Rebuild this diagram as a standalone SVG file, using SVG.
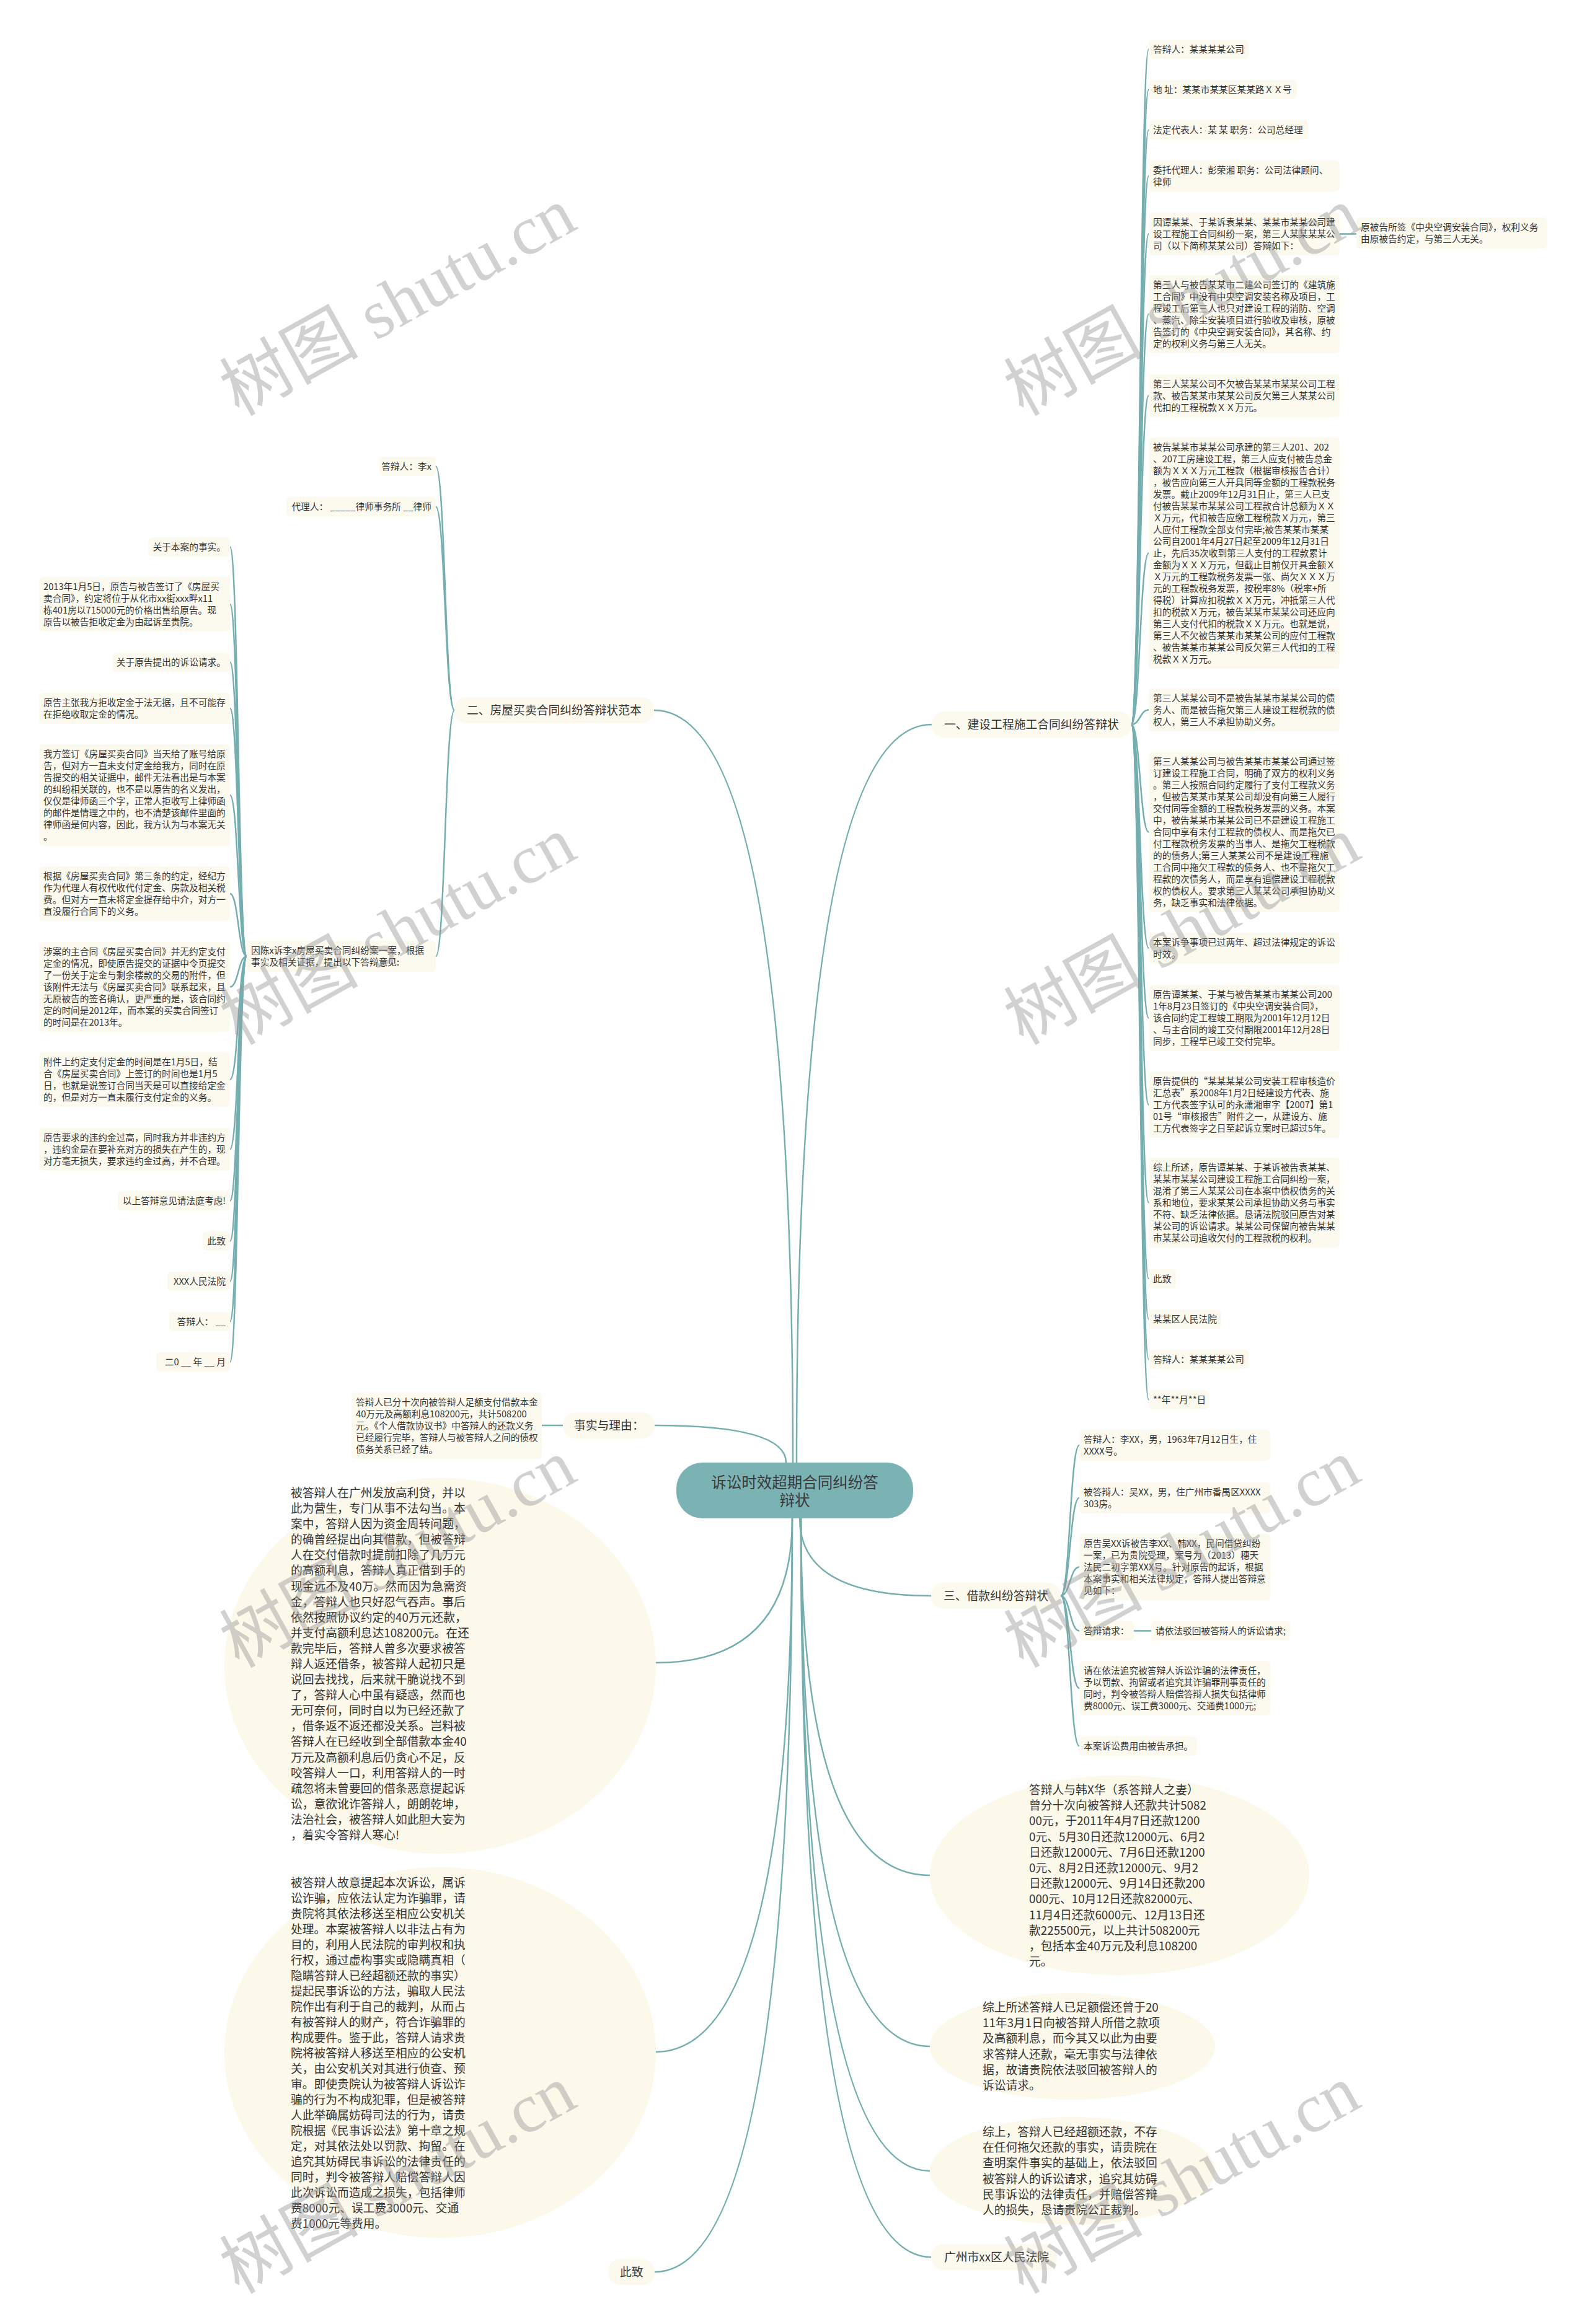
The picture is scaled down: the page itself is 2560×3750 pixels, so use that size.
<svg xmlns="http://www.w3.org/2000/svg" width="2560" height="3750" viewBox="0 0 2560 3750">
<style>
.bg{fill:#ffffff}
.n{fill:#fcf9ee}
.p{fill:#fcf9ee}
.e{fill:#fcf8ea}
.t{font-family:"Noto Sans CJK SC","Noto Sans",sans-serif;font-size:14.7px;fill:#333333}
.tb{font-family:"Noto Sans CJK SC","Noto Sans",sans-serif;font-size:18.8px;fill:#333333}
.tc{font-family:"Noto Sans CJK SC","Noto Sans",sans-serif;font-size:24.5px;fill:#3a3a3a}
.end{text-anchor:end}
.c{fill:none;stroke:#74aeaf;stroke-width:2.5}
.wm{font-family:"Liberation Serif","Noto Sans CJK SC",serif;font-size:112px;fill:#9a9a9a;opacity:0.45}
</style>
<rect class="bg" x="0" y="0" width="2560" height="3750"/>

<g id="connectors">
<path class="c" d="M1285,2360 Q1285,1169 1503,1169"/>
<path class="c" d="M1279,2360 Q1279,1146 1055,1146"/>
<path class="c" d="M1268,2360 Q1268,2300 1056,2300"/>
<path class="c" d="M1290,2450 Q1290,2575 1502,2575"/>
<path class="c" d="M1278,2450 Q1278,2683 1058,2683"/>
<path class="c" d="M1292,2450 Q1292,3026 1500,3026"/>
<path class="c" d="M1292,2450 Q1292,3302 1500,3302"/>
<path class="c" d="M1292,2450 Q1292,3503 1500,3503"/>
<path class="c" d="M1292,2450 Q1292,3642 1502,3642"/>
<path class="c" d="M1278,2450 Q1278,3311 1058,3311"/>
<path class="c" d="M1278,2450 Q1278,3666 1056,3666"/>
<path class="c" d="M1825,1169 C1839,1169 1839,79.5 1853,79.5"/>
<path class="c" d="M1825,1169 C1839,1169 1839,144.5 1853,144.5"/>
<path class="c" d="M1825,1169 C1839,1169 1839,209.5 1853,209.5"/>
<path class="c" d="M1825,1169 C1839,1169 1839,284 1853,284"/>
<path class="c" d="M1825,1169 C1839,1169 1839,377.5 1853,377.5"/>
<path class="c" d="M1825,1169 C1839,1169 1839,507 1853,507"/>
<path class="c" d="M1825,1169 C1839,1169 1839,638.5 1853,638.5"/>
<path class="c" d="M1825,1169 C1839,1169 1839,892.5 1853,892.5"/>
<path class="c" d="M1825,1169 C1839,1169 1839,1145.5 1853,1145.5"/>
<path class="c" d="M1825,1169 C1839,1169 1839,1342.5 1853,1342.5"/>
<path class="c" d="M1825,1169 C1839,1169 1839,1530 1853,1530"/>
<path class="c" d="M1825,1169 C1839,1169 1839,1642.5 1853,1642.5"/>
<path class="c" d="M1825,1169 C1839,1169 1839,1782.5 1853,1782.5"/>
<path class="c" d="M1825,1169 C1839,1169 1839,1940.5 1853,1940.5"/>
<path class="c" d="M1825,1169 C1839,1169 1839,2063.5 1853,2063.5"/>
<path class="c" d="M1825,1169 C1839,1169 1839,2128.5 1853,2128.5"/>
<path class="c" d="M1825,1169 C1839,1169 1839,2193.5 1853,2193.5"/>
<path class="c" d="M1825,1169 C1839,1169 1839,2258.5 1853,2258.5"/>
<path class="c" d="M2161,377.5 L2188,377.5"/>
<path class="c" d="M733,1146 C718,1146 718,752.5 703,752.5"/>
<path class="c" d="M733,1146 C718,1146 718,817.5 703,817.5"/>
<path class="c" d="M733,1146 C718,1146 718,1543 703,1543"/>
<path class="c" d="M398,1543 C384.5,1543 384.5,882.5 371,882.5"/>
<path class="c" d="M398,1543 C384.5,1543 384.5,975 371,975"/>
<path class="c" d="M398,1543 C384.5,1543 384.5,1068.5 371,1068.5"/>
<path class="c" d="M398,1543 C384.5,1543 384.5,1143 371,1143"/>
<path class="c" d="M398,1543 C384.5,1543 384.5,1283 371,1283"/>
<path class="c" d="M398,1543 C384.5,1543 384.5,1442 371,1442"/>
<path class="c" d="M398,1543 C384.5,1543 384.5,1592.5 371,1592.5"/>
<path class="c" d="M398,1543 C384.5,1543 384.5,1742 371,1742"/>
<path class="c" d="M398,1543 C384.5,1543 384.5,1854.5 371,1854.5"/>
<path class="c" d="M398,1543 C384.5,1543 384.5,1937.5 371,1937.5"/>
<path class="c" d="M398,1543 C384.5,1543 384.5,2002.5 371,2002.5"/>
<path class="c" d="M398,1543 C384.5,1543 384.5,2067.5 371,2067.5"/>
<path class="c" d="M398,1543 C384.5,1543 384.5,2132.5 371,2132.5"/>
<path class="c" d="M398,1543 C384.5,1543 384.5,2197.5 371,2197.5"/>
<path class="c" d="M874,2300 L908,2300"/>
<path class="c" d="M1711,2575 C1726,2575 1726,2332 1741,2332"/>
<path class="c" d="M1711,2575 C1726,2575 1726,2417 1741,2417"/>
<path class="c" d="M1711,2575 C1726,2575 1726,2528.5 1741,2528.5"/>
<path class="c" d="M1711,2575 C1726,2575 1726,2631.5 1741,2631.5"/>
<path class="c" d="M1711,2575 C1726,2575 1726,2724 1741,2724"/>
<path class="c" d="M1711,2575 C1726,2575 1726,2817.5 1741,2817.5"/>
<path class="c" d="M1829,2631.5 L1857,2631.5"/>
</g>

<g id="center">
<rect x="1091" y="2360" width="382" height="90" rx="42" fill="#7bb3b4"/>
<text class="tc" text-anchor="middle"><tspan x="1282" y="2401">诉讼时效超期合同纠纷答</tspan><tspan x="1282" y="2430">辩状</tspan></text>
</g>

<g id="b1">
<rect class="p" x="1503" y="1148" width="322" height="42" rx="20"/>
<text class="tb" x="1523" y="1176">一、建设工程施工合同纠纷答辩状</text>
</g>
<g id="r1"><rect class="n" x="1853" y="64" width="161" height="31" rx="6"/><text class="t" x="1860" y="85">答辩人：某某某某公司</text></g>
<g id="r2"><rect class="n" x="1853" y="129" width="239" height="31" rx="6"/><text class="t" x="1860" y="150">地 址：某某市某某区某某路ＸＸ号</text></g>
<g id="r3"><rect class="n" x="1853" y="194" width="257" height="31" rx="6"/><text class="t" x="1860" y="215">法定代表人：某 某 职务：公司总经理</text></g>
<g id="r4"><rect class="n" x="1853" y="259" width="308" height="50" rx="6"/><text class="t"><tspan x="1860" y="280">委托代理人：彭荣湘 职务：公司法律顾问、</tspan><tspan x="1860" y="299">律师</tspan></text></g>
<g id="r5"><rect class="n" x="1853" y="343" width="308" height="69" rx="6"/><text class="t"><tspan x="1860" y="364">因谭某某、于某诉袁某某、某某市某某公司建</tspan><tspan x="1860" y="383">设工程施工合同纠纷一案，第三人某某某某公</tspan><tspan x="1860" y="402">司（以下简称某某公司）答辩如下：</tspan></text></g>
<g id="r5a"><rect class="n" x="2188" y="351" width="308" height="50" rx="6"/><text class="t"><tspan x="2195" y="372">原被告所签《中央空调安装合同》，权利义务</tspan><tspan x="2195" y="391">由原被告约定，与第三人无关。</tspan></text></g>
<g id="r6"><rect class="n" x="1853" y="444" width="308" height="126" rx="6"/><text class="t"><tspan x="1860" y="465">第三人与被告某某市二建公司签订的《建筑施</tspan><tspan x="1860" y="484">工合同》中没有中央空调安装名称及项目，工</tspan><tspan x="1860" y="503">程竣工后第三人也只对建设工程的消防、空调</tspan><tspan x="1860" y="522">、蒸汽、除尘安装项目进行验收及审核，原被</tspan><tspan x="1860" y="541">告签订的《中央空调安装合同》，其名称、约</tspan><tspan x="1860" y="560">定的权利义务与第三人无关。</tspan></text></g>
<g id="r7"><rect class="n" x="1853" y="604" width="308" height="69" rx="6"/><text class="t"><tspan x="1860" y="625">第三人某某公司不欠被告某某市某某公司工程</tspan><tspan x="1860" y="644">款、被告某某市某某公司反欠第三人某某公司</tspan><tspan x="1860" y="663">代扣的工程税款ＸＸ万元。</tspan></text></g>
<g id="r8"><rect class="n" x="1853" y="706" width="308" height="373" rx="6"/><text class="t"><tspan x="1860" y="727">被告某某市某某公司承建的第三人201、202</tspan><tspan x="1860" y="746">、207工房建设工程，第三人应支付被告总金</tspan><tspan x="1860" y="765">额为ＸＸＸ万元工程款（根据审核报告合计）</tspan><tspan x="1860" y="784">，被告应向第三人开具同等金额的工程款税务</tspan><tspan x="1860" y="803">发票。截止2009年12月31日止，第三人已支</tspan><tspan x="1860" y="822">付被告某某市某某公司工程款合计总额为ＸＸ</tspan><tspan x="1860" y="841">Ｘ万元，代扣被告应缴工程税款Ｘ万元，第三</tspan><tspan x="1860" y="860">人应付工程款全部支付完毕;被告某某市某某</tspan><tspan x="1860" y="879">公司自2001年4月27日起至2009年12月31日</tspan><tspan x="1860" y="898">止，先后35次收到第三人支付的工程款累计</tspan><tspan x="1860" y="917">金额为ＸＸＸ万元，但截止目前仅开具金额Ｘ</tspan><tspan x="1860" y="936">Ｘ万元的工程款税务发票一张、尚欠ＸＸＸ万</tspan><tspan x="1860" y="955">元的工程款税务发票，按税率8%（税率+所</tspan><tspan x="1860" y="974">得税）计算应扣税款ＸＸ万元，冲抵第三人代</tspan><tspan x="1860" y="993">扣的税款Ｘ万元，被告某某市某某公司还应向</tspan><tspan x="1860" y="1012">第三人支付代扣的税款ＸＸ万元。也就是说，</tspan><tspan x="1860" y="1031">第三人不欠被告某某市某某公司的应付工程款</tspan><tspan x="1860" y="1050">、被告某某市某某公司反欠第三人代扣的工程</tspan><tspan x="1860" y="1069">税款ＸＸ万元。</tspan></text></g>
<g id="r9"><rect class="n" x="1853" y="1111" width="308" height="69" rx="6"/><text class="t"><tspan x="1860" y="1132">第三人某某公司不是被告某某市某某公司的债</tspan><tspan x="1860" y="1151">务人、而是被告拖欠第三人建设工程税款的债</tspan><tspan x="1860" y="1170">权人，第三人不承担协助义务。</tspan></text></g>
<g id="r10"><rect class="n" x="1853" y="1213" width="308" height="259" rx="6"/><text class="t"><tspan x="1860" y="1234">第三人某某公司与被告某某市某某公司通过签</tspan><tspan x="1860" y="1253">订建设工程施工合同，明确了双方的权利义务</tspan><tspan x="1860" y="1272">。第三人按照合同约定履行了支付工程款义务</tspan><tspan x="1860" y="1291">，但被告某某市某某公司却没有向第三人履行</tspan><tspan x="1860" y="1310">交付同等金额的工程款税务发票的义务。本案</tspan><tspan x="1860" y="1329">中，被告某某市某某公司已不是建设工程施工</tspan><tspan x="1860" y="1348">合同中享有未付工程款的债权人、而是拖欠已</tspan><tspan x="1860" y="1367">付工程款税务发票的当事人、是拖欠工程税款</tspan><tspan x="1860" y="1386">的的债务人;第三人某某公司不是建设工程施</tspan><tspan x="1860" y="1405">工合同中拖欠工程款的债务人、也不是拖欠工</tspan><tspan x="1860" y="1424">程款的次债务人，而是享有追偿建设工程税款</tspan><tspan x="1860" y="1443">权的债权人。要求第三人某某公司承担协助义</tspan><tspan x="1860" y="1462">务，缺乏事实和法律依据。</tspan></text></g>
<g id="r11"><rect class="n" x="1853" y="1505" width="308" height="50" rx="6"/><text class="t"><tspan x="1860" y="1526">本案诉争事项已过两年、超过法律规定的诉讼</tspan><tspan x="1860" y="1545">时效。</tspan></text></g>
<g id="r12"><rect class="n" x="1853" y="1589" width="308" height="107" rx="6"/><text class="t"><tspan x="1860" y="1610">原告谭某某、于某与被告某某市某某公司200</tspan><tspan x="1860" y="1629">1年8月23日签订的《中央空调安装合同》，</tspan><tspan x="1860" y="1648">该合同约定工程竣工期限为2001年12月12日</tspan><tspan x="1860" y="1667">、与主合同的竣工交付期限2001年12月28日</tspan><tspan x="1860" y="1686">同步，工程早已竣工交付完毕。</tspan></text></g>
<g id="r13"><rect class="n" x="1853" y="1729" width="308" height="107" rx="6"/><text class="t"><tspan x="1860" y="1750">原告提供的“某某某某公司安装工程审核造价</tspan><tspan x="1860" y="1769">汇总表”系2008年1月2日经建设方代表、施</tspan><tspan x="1860" y="1788">工方代表签字认可的永潇湘审字【2007】第1</tspan><tspan x="1860" y="1807">01号“审核报告”附件之一，从建设方、施</tspan><tspan x="1860" y="1826">工方代表签字之日至起诉立案时已超过5年。</tspan></text></g>
<g id="r14"><rect class="n" x="1853" y="1868" width="308" height="145" rx="6"/><text class="t"><tspan x="1860" y="1889">综上所述，原告谭某某、于某诉被告袁某某、</tspan><tspan x="1860" y="1908">某某市某某公司建设工程施工合同纠纷一案，</tspan><tspan x="1860" y="1927">混淆了第三人某某公司在本案中债权债务的关</tspan><tspan x="1860" y="1946">系和地位，要求某某公司承担协助义务与事实</tspan><tspan x="1860" y="1965">不符、缺乏法律依据。恳请法院驳回原告对某</tspan><tspan x="1860" y="1984">某公司的诉讼请求。某某公司保留向被告某某</tspan><tspan x="1860" y="2003">市某某公司追收欠付的工程款税的权利。</tspan></text></g>
<g id="r15"><rect class="n" x="1853" y="2048" width="44" height="31" rx="6"/><text class="t" x="1860" y="2069">此致</text></g>
<g id="r16"><rect class="n" x="1853" y="2113" width="117" height="31" rx="6"/><text class="t" x="1860" y="2134">某某区人民法院</text></g>
<g id="r17"><rect class="n" x="1853" y="2178" width="161" height="31" rx="6"/><text class="t" x="1860" y="2199">答辩人：某某某某公司</text></g>
<g id="r18"><rect class="n" x="1853" y="2243" width="97" height="31" rx="6"/><text class="t" x="1860" y="2264">**年**月**日</text></g>

<g id="b2">
<rect class="p" x="733" y="1125" width="322" height="42" rx="20"/>
<text class="tb" x="753" y="1153">二、房屋买卖合同纠纷答辩状范本</text>
</g>
<g id="e1"><rect class="n" x="612" y="737" width="91" height="31" rx="6"/><text class="t end" x="696" y="758">答辩人：李x</text></g>
<g id="e2"><rect class="n" x="462" y="802" width="241" height="31" rx="6"/><text class="t end" x="696" y="823">代理人：  _____律师事务所 __律师</text></g>
<g id="e3"><rect class="n" x="398" y="1518" width="305" height="50" rx="6"/><text class="t"><tspan x="405" y="1539">因陈x诉李x房屋买卖合同纠纷案一案，根据</tspan><tspan x="405" y="1558">事实及相关证据，提出以下答辩意见:</tspan></text></g>
<g id="l1"><rect class="n" x="239" y="867" width="132" height="31" rx="6"/><text class="t end" x="364" y="888">关于本案的事实。</text></g>
<g id="l2"><rect class="n" x="63" y="931" width="308" height="88" rx="6"/><text class="t"><tspan x="70" y="952">2013年1月5日，原告与被告签订了《房屋买</tspan><tspan x="70" y="971">卖合同》，约定将位于从化市xx街xxx畔x11</tspan><tspan x="70" y="990">栋401房以715000元的价格出售给原告。现</tspan><tspan x="70" y="1009">原告以被告拒收定金为由起诉至贵院。</tspan></text></g>
<g id="l3"><rect class="n" x="181" y="1053" width="190" height="31" rx="6"/><text class="t end" x="364" y="1074">关于原告提出的诉讼请求。</text></g>
<g id="l4"><rect class="n" x="63" y="1118" width="308" height="50" rx="6"/><text class="t"><tspan x="70" y="1139">原告主张我方拒收定金于法无据，且不可能存</tspan><tspan x="70" y="1158">在拒绝收取定金的情况。</tspan></text></g>
<g id="l5"><rect class="n" x="63" y="1201" width="308" height="164" rx="6"/><text class="t"><tspan x="70" y="1222">我方签订《房屋买卖合同》当天给了账号给原</tspan><tspan x="70" y="1241">告，但对方一直未支付定金给我方，同时在原</tspan><tspan x="70" y="1260">告提交的相关证据中，邮件无法看出是与本案</tspan><tspan x="70" y="1279">的纠纷相关联的，也不是以原告的名义发出，</tspan><tspan x="70" y="1298">仅仅是律师函三个字，正常人拒收写上律师函</tspan><tspan x="70" y="1317">的邮件是情理之中的，也不清楚该邮件里面的</tspan><tspan x="70" y="1336">律师函是何内容，因此，我方认为与本案无关</tspan><tspan x="70" y="1355">。</tspan></text></g>
<g id="l6"><rect class="n" x="63" y="1398" width="308" height="88" rx="6"/><text class="t"><tspan x="70" y="1419">根据《房屋买卖合同》第三条的约定，经纪方</tspan><tspan x="70" y="1438">作为代理人有权代收代付定金、房款及相关税</tspan><tspan x="70" y="1457">费。但对方一直未将定金提存给中介，对方一</tspan><tspan x="70" y="1476">直没履行合同下的义务。</tspan></text></g>
<g id="l7"><rect class="n" x="63" y="1520" width="308" height="145" rx="6"/><text class="t"><tspan x="70" y="1541">涉案的主合同《房屋买卖合同》并无约定支付</tspan><tspan x="70" y="1560">定金的情况，即使原告提交的证据中令页提交</tspan><tspan x="70" y="1579">了一份关于定金与剩余楼款的交易的附件，但</tspan><tspan x="70" y="1598">该附件无法与《房屋买卖合同》联系起来，且</tspan><tspan x="70" y="1617">无原被告的签名确认，更严重的是，该合同约</tspan><tspan x="70" y="1636">定的时间是2012年，而本案的买卖合同签订</tspan><tspan x="70" y="1655">的时间是在2013年。</tspan></text></g>
<g id="l8"><rect class="n" x="63" y="1698" width="308" height="88" rx="6"/><text class="t"><tspan x="70" y="1719">附件上约定支付定金的时间是在1月5日，结</tspan><tspan x="70" y="1738">合《房屋买卖合同》上签订的时间也是1月5</tspan><tspan x="70" y="1757">日，也就是说签订合同当天是可以直接给定金</tspan><tspan x="70" y="1776">的，但是对方一直未履行支付定金的义务。</tspan></text></g>
<g id="l9"><rect class="n" x="63" y="1820" width="308" height="69" rx="6"/><text class="t"><tspan x="70" y="1841">原告要求的违约金过高，同时我方并非违约方</tspan><tspan x="70" y="1860">，违约金是在要补充对方的损失在产生的，现</tspan><tspan x="70" y="1879">对方毫无损失，要求违约金过高，并不合理。</tspan></text></g>
<g id="l10"><rect class="n" x="190" y="1922" width="181" height="31" rx="6"/><text class="t end" x="364" y="1943">以上答辩意见请法庭考虑!</text></g>
<g id="l11"><rect class="n" x="327" y="1987" width="44" height="31" rx="6"/><text class="t end" x="364" y="2008">此致</text></g>
<g id="l12"><rect class="n" x="270" y="2052" width="101" height="31" rx="6"/><text class="t end" x="364" y="2073">XXX人民法院</text></g>
<g id="l13"><rect class="n" x="273" y="2117" width="98" height="31" rx="6"/><text class="t end" x="364" y="2138">答辩人：  __</text></g>
<g id="l14"><rect class="n" x="252" y="2182" width="119" height="31" rx="6"/><text class="t end" x="364" y="2203">二0 __ 年 __ 月</text></g>

<g id="fact">
<rect class="p" x="908" y="2279" width="148" height="42" rx="20"/>
<text class="tb" x="926" y="2307">事实与理由：</text>
</g>
<g id="fact1"><rect class="n" x="567" y="2247" width="307" height="107" rx="6"/><text class="t"><tspan x="574" y="2268">答辩人已分十次向被答辩人足额支付借款本金</tspan><tspan x="574" y="2287">40万元及高额利息108200元，共计508200</tspan><tspan x="574" y="2306">元。《个人借款协议书》中答辩人的还款义务</tspan><tspan x="574" y="2325">已经履行完毕，答辩人与被答辩人之间的债权</tspan><tspan x="574" y="2344">债务关系已经了结。</tspan></text></g>

<g id="b3">
<rect class="p" x="1502" y="2554" width="209" height="42" rx="20"/>
<text class="tb" x="1522" y="2582">三、借款纠纷答辩状</text>
</g>
<g id="s1"><rect class="n" x="1741" y="2307" width="308" height="50" rx="6"/><text class="t"><tspan x="1748" y="2328">答辩人：李XX，男，1963年7月12日生，住</tspan><tspan x="1748" y="2347">XXXX号。</tspan></text></g>
<g id="s2"><rect class="n" x="1741" y="2392" width="308" height="50" rx="6"/><text class="t"><tspan x="1748" y="2413">被答辩人：吴XX，男，住广州市番禺区XXXX</tspan><tspan x="1748" y="2432">303房。</tspan></text></g>
<g id="s3"><rect class="n" x="1741" y="2475" width="308" height="107" rx="6"/><text class="t"><tspan x="1748" y="2496">原告吴XX诉被告李XX、韩XX，民间借贷纠纷</tspan><tspan x="1748" y="2515">一案，已为贵院受理，案号为（2013）穗天</tspan><tspan x="1748" y="2534">法民二初字第XXX号。针对原告的起诉，根据</tspan><tspan x="1748" y="2553">本案事实和相关法律规定，答辩人提出答辩意</tspan><tspan x="1748" y="2572">见如下：</tspan></text></g>
<g id="s4"><rect class="n" x="1741" y="2616" width="88" height="31" rx="6"/><text class="t" x="1748" y="2637">答辩请求：</text></g>
<g id="s4a"><rect class="n" x="1857" y="2616" width="224" height="31" rx="6"/><text class="t" x="1864" y="2637">请依法驳回被答辩人的诉讼请求;</text></g>
<g id="s5"><rect class="n" x="1741" y="2680" width="308" height="88" rx="6"/><text class="t"><tspan x="1748" y="2701">请在依法追究被答辩人诉讼诈骗的法律责任，</tspan><tspan x="1748" y="2720">予以罚款、拘留或者追究其诈骗罪刑事责任的</tspan><tspan x="1748" y="2739">同时，判令被答辩人赔偿答辩人损失包括律师</tspan><tspan x="1748" y="2758">费8000元、误工费3000元、交通费1000元;</tspan></text></g>
<g id="s6"><rect class="n" x="1741" y="2802" width="190" height="31" rx="6"/><text class="t" x="1748" y="2823">本案诉讼费用由被告承担。</text></g>

<g id="c1">
<ellipse class="e" cx="710" cy="2688" rx="348" ry="303"/>
<text class="tb"><tspan x="469" y="2416">被答辩人在广州发放高利贷，并以</tspan><tspan x="469" y="2441">此为营生，专门从事不法勾当。本</tspan><tspan x="469" y="2466">案中，答辩人因为资金周转问题，</tspan><tspan x="469" y="2491">的确曾经提出向其借款，但被答辩</tspan><tspan x="469" y="2516">人在交付借款时提前扣除了几万元</tspan><tspan x="469" y="2541">的高额利息，答辩人真正借到手的</tspan><tspan x="469" y="2567">现金远不及40万。然而因为急需资</tspan><tspan x="469" y="2592">金，答辩人也只好忍气吞声。事后</tspan><tspan x="469" y="2617">依然按照协议约定的40万元还款，</tspan><tspan x="469" y="2642">并支付高额利息达108200元。在还</tspan><tspan x="469" y="2667">款完毕后，答辩人曾多次要求被答</tspan><tspan x="469" y="2692">辩人返还借条，被答辩人起初只是</tspan><tspan x="469" y="2717">说回去找找，后来就干脆说找不到</tspan><tspan x="469" y="2742">了，答辩人心中虽有疑惑，然而也</tspan><tspan x="469" y="2767">无可奈何，同时自以为已经还款了</tspan><tspan x="469" y="2792">，借条返不返还都没关系。岂料被</tspan><tspan x="469" y="2817">答辩人在已经收到全部借款本金40</tspan><tspan x="469" y="2843">万元及高额利息后仍贪心不足，反</tspan><tspan x="469" y="2868">咬答辩人一口，利用答辩人的一时</tspan><tspan x="469" y="2893">疏忽将未曾要回的借条恶意提起诉</tspan><tspan x="469" y="2918">讼，意欲讹诈答辩人，朗朗乾坤，</tspan><tspan x="469" y="2943">法治社会，被答辩人如此胆大妄为</tspan><tspan x="469" y="2968">，着实令答辩人寒心!</tspan></text>
</g>

<g id="c2">
<ellipse class="e" cx="710" cy="3312" rx="348" ry="299"/>
<text class="tb"><tspan x="469" y="3045">被答辩人故意提起本次诉讼，属诉</tspan><tspan x="469" y="3070">讼诈骗，应依法认定为诈骗罪，请</tspan><tspan x="469" y="3095">贵院将其依法移送至相应公安机关</tspan><tspan x="469" y="3120">处理。本案被答辩人以非法占有为</tspan><tspan x="469" y="3145">目的，利用人民法院的审判权和执</tspan><tspan x="469" y="3170">行权，通过虚构事实或隐瞒真相（</tspan><tspan x="469" y="3195">隐瞒答辩人已经超额还款的事实）</tspan><tspan x="469" y="3220">提起民事诉讼的方法，骗取人民法</tspan><tspan x="469" y="3245">院作出有利于自己的裁判，从而占</tspan><tspan x="469" y="3270">有被答辩人的财产，符合诈骗罪的</tspan><tspan x="469" y="3295">构成要件。鉴于此，答辩人请求贵</tspan><tspan x="469" y="3320">院将被答辩人移送至相应的公安机</tspan><tspan x="469" y="3345">关，由公安机关对其进行侦查、预</tspan><tspan x="469" y="3370">审。即使贵院认为被答辩人诉讼诈</tspan><tspan x="469" y="3395">骗的行为不构成犯罪，但是被答辩</tspan><tspan x="469" y="3420">人此举确属妨碍司法的行为，请贵</tspan><tspan x="469" y="3445">院根据《民事诉讼法》第十章之规</tspan><tspan x="469" y="3470">定，对其依法处以罚款、拘留。在</tspan><tspan x="469" y="3495">追究其妨碍民事诉讼的法律责任的</tspan><tspan x="469" y="3520">同时，判令被答辩人赔偿答辩人因</tspan><tspan x="469" y="3545">此次诉讼而造成之损失，包括律师</tspan><tspan x="469" y="3570">费8000元、误工费3000元、交通</tspan><tspan x="469" y="3595">费1000元等费用。</tspan></text>
</g>

<g id="c3">
<ellipse class="e" cx="1806" cy="3026" rx="306" ry="161"/>
<text class="tb"><tspan x="1660" y="2895">答辩人与韩X华（系答辩人之妻）</tspan><tspan x="1660" y="2920">曾分十次向被答辩人还款共计5082</tspan><tspan x="1660" y="2945">00元，于2011年4月7日还款1200</tspan><tspan x="1660" y="2971">0元、5月30日还款12000元、6月2</tspan><tspan x="1660" y="2996">日还款12000元、7月6日还款1200</tspan><tspan x="1660" y="3021">0元、8月2日还款12000元、9月2</tspan><tspan x="1660" y="3046">日还款12000元、9月14日还款200</tspan><tspan x="1660" y="3071">000元、10月12日还款82000元、</tspan><tspan x="1660" y="3097">11月4日还款6000元、12月13日还</tspan><tspan x="1660" y="3122">款225500元，以上共计508200元</tspan><tspan x="1660" y="3147">，包括本金40万元及利息108200</tspan><tspan x="1660" y="3172">元。</tspan></text>
</g>

<g id="c4">
<ellipse class="e" cx="1730" cy="3302" rx="230" ry="86"/>
<text class="tb"><tspan x="1585" y="3246">综上所述答辩人已足额偿还曾于20</tspan><tspan x="1585" y="3271">11年3月1日向被答辩人所借之款项</tspan><tspan x="1585" y="3296">及高额利息，而今其又以此为由要</tspan><tspan x="1585" y="3322">求答辩人还款，毫无事实与法律依</tspan><tspan x="1585" y="3347">据，故请贵院依法驳回被答辩人的</tspan><tspan x="1585" y="3372">诉讼请求。</tspan></text>
</g>

<g id="c5">
<ellipse class="e" cx="1730" cy="3503" rx="230" ry="87"/>
<text class="tb"><tspan x="1585" y="3447">综上，答辩人已经超额还款，不存</tspan><tspan x="1585" y="3472">在任何拖欠还款的事实，请贵院在</tspan><tspan x="1585" y="3497">查明案件事实的基础上，依法驳回</tspan><tspan x="1585" y="3523">被答辩人的诉讼请求，追究其妨碍</tspan><tspan x="1585" y="3548">民事诉讼的法律责任，并赔偿答辩</tspan><tspan x="1585" y="3573">人的损失，恳请贵院公正裁判。</tspan></text>
</g>

<g id="court">
<rect class="p" x="1502" y="3621" width="203" height="42" rx="20"/>
<text class="tb" x="1523" y="3649">广州市xx区人民法院</text>
</g>
<g id="cizhi">
<rect class="p" x="981" y="3645" width="75" height="42" rx="20"/>
<text class="tb" x="1000" y="3673">此致</text>
</g>

<g id="watermarks">
<text class="wm" text-anchor="middle" transform="translate(660,520) rotate(-29)">树图 shutu.cn</text>
<text class="wm" text-anchor="middle" transform="translate(1925,520) rotate(-29)">树图 shutu.cn</text>
<text class="wm" text-anchor="middle" transform="translate(660,1535) rotate(-29)">树图 shutu.cn</text>
<text class="wm" text-anchor="middle" transform="translate(1925,1535) rotate(-29)">树图 shutu.cn</text>
<text class="wm" text-anchor="middle" transform="translate(660,2540) rotate(-29)">树图 shutu.cn</text>
<text class="wm" text-anchor="middle" transform="translate(1925,2540) rotate(-29)">树图 shutu.cn</text>
<text class="wm" text-anchor="middle" transform="translate(660,3550) rotate(-29)">树图 shutu.cn</text>
<text class="wm" text-anchor="middle" transform="translate(1925,3550) rotate(-29)">树图 shutu.cn</text>
</g>
</svg>
